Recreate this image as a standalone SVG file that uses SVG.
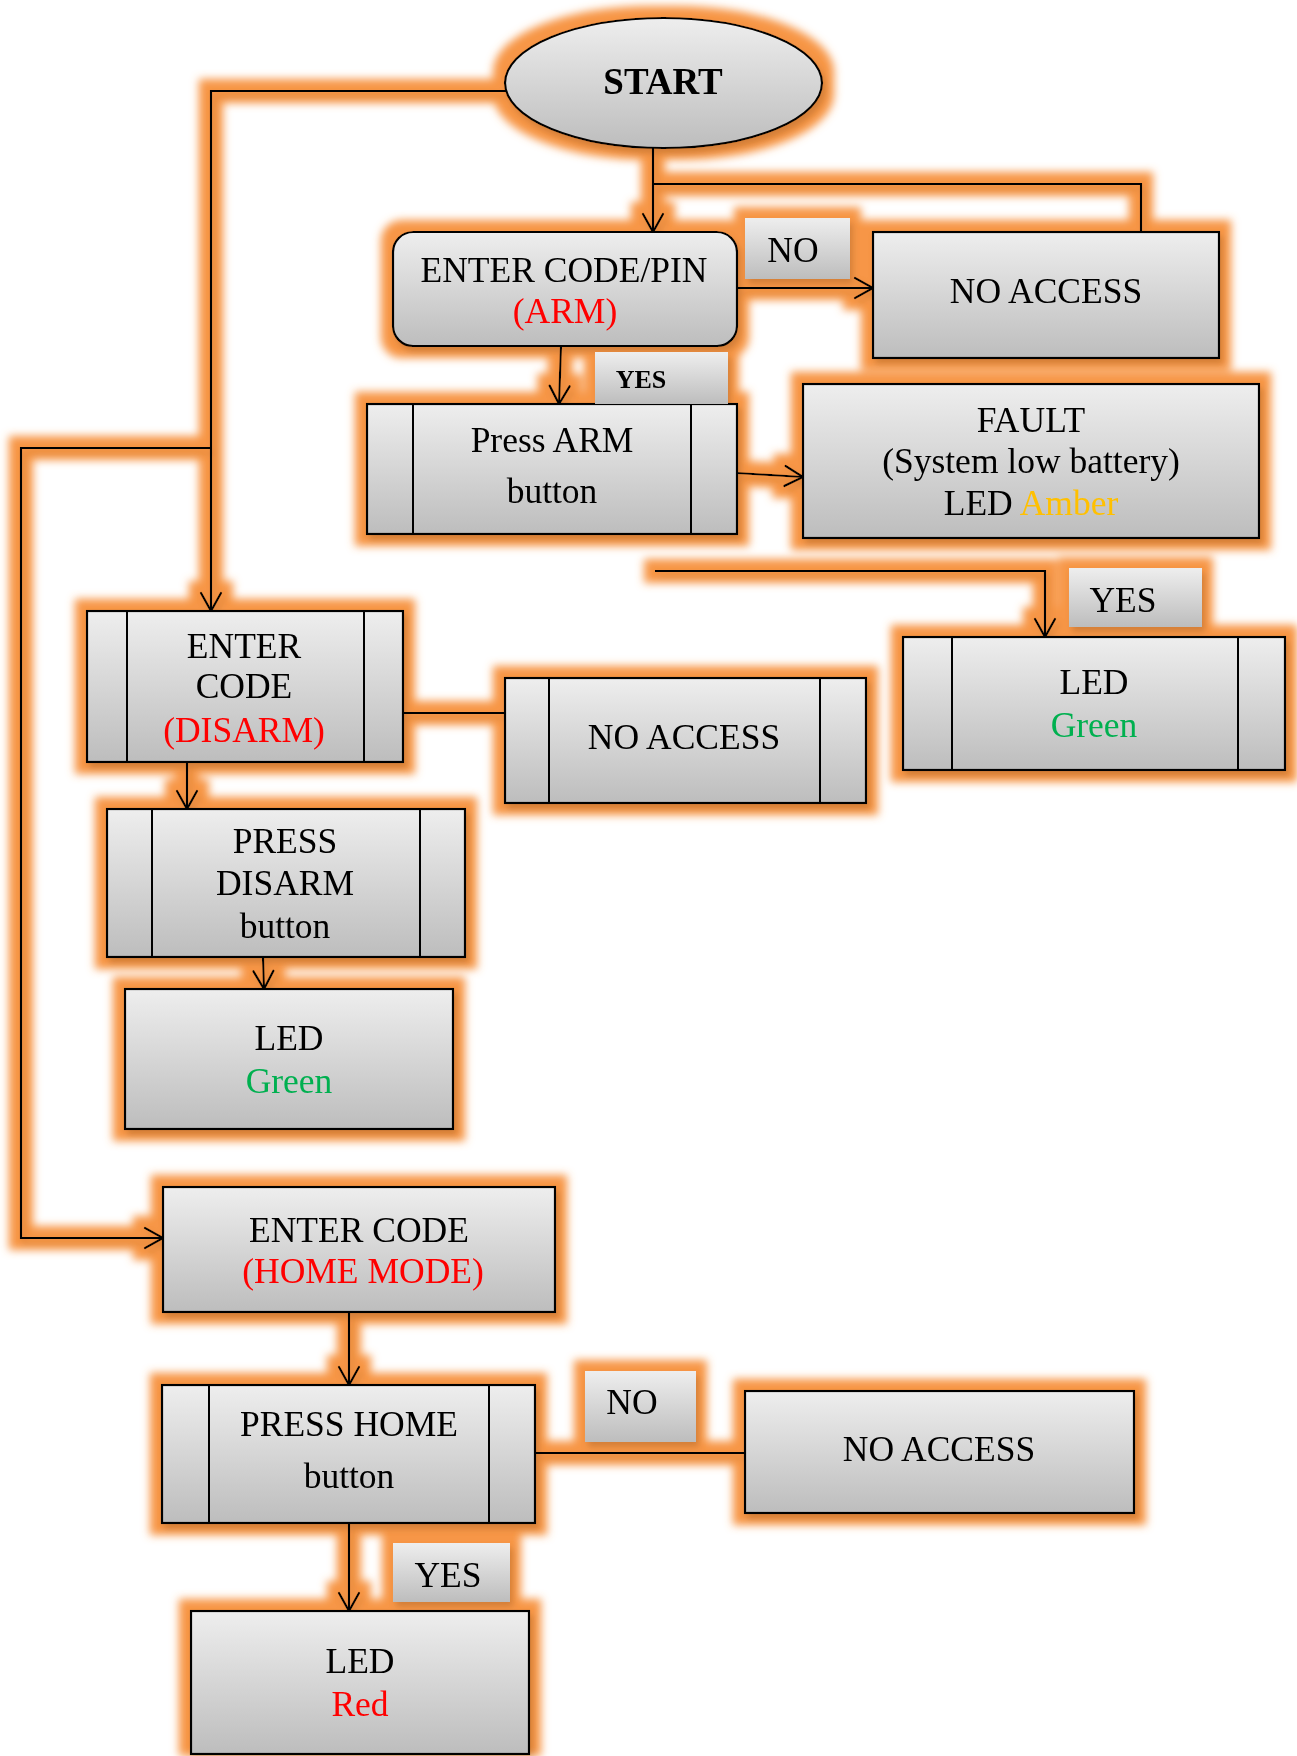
<svg xmlns="http://www.w3.org/2000/svg" width="1297" height="1756" viewBox="0 0 1297 1756">
  <style>
    .box { fill: url(#shade); stroke: #000; stroke-width: 2.2; }
    .tag { fill: url(#shade); }
    .bar { stroke: #000; stroke-width: 2; fill: none; }
    .conn { fill: none; stroke: #000; stroke-width: 2.2; }
    .arrow { marker-end: url(#head); }
    text { font-family: "Liberation Serif", "Times New Roman", serif; font-size: 35.5px; text-anchor: middle; fill: #000; }
    .bold { font-weight: bold; }
    .red { fill: #FF0000; }
    .green { fill: #00B050; }
    .amber { fill: #FFC000; }
  </style>
  <defs>
    <linearGradient id="shade" x1="0" y1="0" x2="0" y2="1">
      <stop offset="0" stop-color="#EEEEEE"/>
      <stop offset="1" stop-color="#BDBDBD"/>
    </linearGradient>
    <marker id="head" viewBox="-24 -14 28 28" refX="0" refY="0" markerWidth="28" markerHeight="28" markerUnits="userSpaceOnUse" orient="auto">
      <path d="M-18,-10 L0,0 L-18,10" fill="none" stroke="#000" stroke-width="2.4" stroke-linejoin="round" stroke-linecap="round"/>
    </marker>
    <!-- orange outer glow plus a soft drop shadow under every shape and line -->
    <filter id="glow" filterUnits="userSpaceOnUse" x="0" y="0" width="1297" height="1756">
      <feMorphology in="SourceAlpha" operator="dilate" radius="11" result="fat"/>
      <feGaussianBlur in="fat" stdDeviation="4" result="soft"/>
      <feFlood flood-color="#F79646" result="orange"/>
      <feComposite in="orange" in2="soft" operator="in" result="halo"/>
      <feOffset in="SourceAlpha" dx="3" dy="5" result="off"/>
      <feGaussianBlur in="off" stdDeviation="3" result="offblur"/>
      <feFlood flood-color="#6B3A10" flood-opacity="0.35" result="dark"/>
      <feComposite in="dark" in2="offblur" operator="in" result="shadow"/>
      <feMerge>
        <feMergeNode in="halo"/>
        <feMergeNode in="shadow"/>
        <feMergeNode in="SourceGraphic"/>
      </feMerge>
    </filter>
  </defs>

  <rect width="1297" height="1756" fill="#FFFFFF"/>

  <g filter="url(#glow)">
    <g id="connectors">
      <path class="conn arrow" d="M653,148 V232"/>
      <path class="conn" d="M653,184 H1141 V232"/>
      <path class="conn arrow" d="M507,91 H211 V611"/>
      <path class="conn arrow" d="M211,448 H21 V1238 H163"/>
      <path class="conn arrow" d="M737,288 H873"/>
      <path class="conn arrow" d="M561,346 L559,404"/>
      <path class="conn arrow" d="M737,473 L803,477"/>
      <path class="conn arrow" d="M655,571 H1045 V637"/>
      <path class="conn" d="M403,713 H509"/>
      <path class="conn arrow" d="M187,748 V809"/>
      <path class="conn arrow" d="M263,957 L264,989"/>
      <path class="conn arrow" d="M349,1312 V1385"/>
      <path class="conn" d="M535,1453 H745"/>
      <path class="conn arrow" d="M349,1523 V1611"/>
    </g>

    <g id="start">
      <ellipse class="box" cx="663.5" cy="83" rx="158.5" ry="65"/>
      <text class="bold" x="663" y="94" style="font-size:37px">START</text>
    </g>

    <g id="enter-pin">
      <rect class="box" x="393" y="232" width="344" height="114" rx="20"/>
      <text x="564" y="282">ENTER CODE/PIN</text>
      <text class="red" x="565" y="323">(ARM)</text>
    </g>

    <g id="label-no-arm">
      <rect class="tag" x="745" y="218" width="105" height="61"/>
      <text x="793" y="262">NO</text>
    </g>

    <g id="no-access-arm">
      <rect class="box" x="873" y="232" width="346" height="126"/>
      <text x="1046" y="303">NO ACCESS</text>
    </g>

    <g id="press-arm">
      <rect class="box" x="367" y="404" width="370" height="130"/>
      <path class="bar" d="M413,404 V534 M691,404 V534"/>
      <text x="552" y="452">Press ARM</text>
      <text x="552" y="503">button</text>
    </g>

    <g id="label-yes-arm">
      <rect class="tag" x="595" y="352" width="133" height="52"/>
      <text class="bold" x="641" y="388" style="font-size:26px">YES</text>
    </g>

    <g id="fault">
      <rect class="box" x="803" y="384" width="456" height="154"/>
      <text x="1031" y="432">FAULT</text>
      <text x="1031" y="473">(System low battery)</text>
      <text x="1031" y="515">LED <tspan class="amber">Amber</tspan></text>
    </g>

    <g id="label-yes-armed">
      <rect class="tag" x="1069" y="568" width="133" height="59"/>
      <text x="1123" y="612">YES</text>
    </g>

    <g id="led-green-armed">
      <rect class="box" x="903" y="637" width="382" height="133"/>
      <path class="bar" d="M952,637 V770 M1238,637 V770"/>
      <text x="1094" y="694">LED</text>
      <text class="green" x="1094" y="737">Green</text>
    </g>

    <g id="enter-disarm">
      <rect class="box" x="87" y="611" width="316" height="151"/>
      <path class="bar" d="M127,611 V762 M364,611 V762"/>
      <text x="244" y="658">ENTER</text>
      <text x="244" y="698">CODE</text>
      <text class="red" x="244" y="742">(DISARM)</text>
    </g>

    <g id="no-access-disarm">
      <rect class="box" x="505" y="678" width="361" height="125"/>
      <path class="bar" d="M549,678 V803 M820,678 V803"/>
      <text x="684" y="749">NO ACCESS</text>
    </g>

    <g id="press-disarm">
      <rect class="box" x="107" y="809" width="358" height="148"/>
      <path class="bar" d="M152,809 V957 M420,809 V957"/>
      <text x="285" y="853">PRESS</text>
      <text x="285" y="895">DISARM</text>
      <text x="285" y="938">button</text>
    </g>

    <g id="led-green-disarmed">
      <rect class="box" x="125" y="989" width="328" height="140"/>
      <text x="289" y="1050">LED</text>
      <text class="green" x="289" y="1093">Green</text>
    </g>

    <g id="enter-home">
      <rect class="box" x="163" y="1187" width="392" height="125"/>
      <text x="359" y="1242">ENTER CODE</text>
      <text class="red" x="363" y="1283">(HOME MODE)</text>
    </g>

    <g id="press-home">
      <rect class="box" x="162" y="1385" width="373" height="138"/>
      <path class="bar" d="M209,1385 V1523 M489,1385 V1523"/>
      <text x="349" y="1436">PRESS HOME</text>
      <text x="349" y="1488">button</text>
    </g>

    <g id="label-no-home">
      <rect class="tag" x="585" y="1371" width="111" height="71"/>
      <text x="632" y="1414">NO</text>
    </g>

    <g id="no-access-home">
      <rect class="box" x="745" y="1391" width="389" height="122"/>
      <text x="939" y="1461">NO ACCESS</text>
    </g>

    <g id="label-yes-home">
      <rect class="tag" x="393" y="1543" width="117" height="59"/>
      <text x="448" y="1587">YES</text>
    </g>

    <g id="led-red">
      <rect class="box" x="191" y="1611" width="338" height="143"/>
      <text x="360" y="1673">LED</text>
      <text class="red" x="360" y="1716">Red</text>
    </g>
  </g>
</svg>
